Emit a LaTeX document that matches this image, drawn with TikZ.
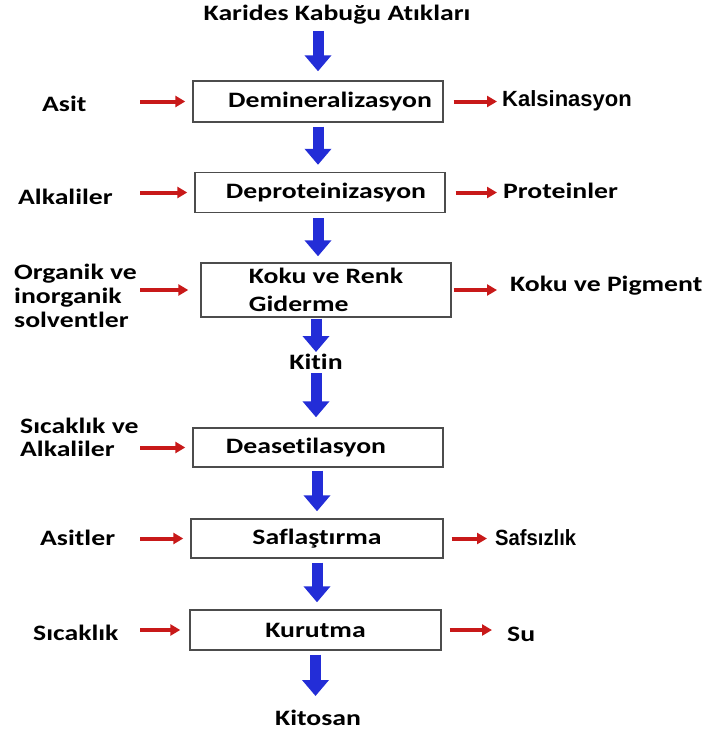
\documentclass[tikz,border=0pt]{standalone}
\usepackage{fontspec}
\usepackage{xcolor}
\usetikzlibrary{arrows.meta}
\newfontfamily\flowfont{Carlito}[FakeStretch=1.26, Ligatures=NoCommon]
\newfontfamily\arialfont{Liberation Sans}
\newfontfamily\arialnarrow{Liberation Sans}[FakeStretch=0.92]
\definecolor{arrblue}{RGB}{35,45,215}
\definecolor{arrred}{RGB}{200,25,25}

\tikzset{
  box/.style={draw=black!70, line width=1.4pt, minimum width=250pt, minimum height=40pt,
    inner sep=0pt, align=center, font=\flowfont\bfseries\fontsize{22}{25}\selectfont},
  lbl/.style={inner sep=0pt, align=left, font=\flowfont\bfseries\fontsize{22}{24}\selectfont},
  bluearr/.style={draw=arrblue, line width=11pt, -{Triangle[width=26pt,length=16pt]},
    shorten <=4pt, shorten >=7pt},
  redarr/.style={draw=arrred, line width=4pt, -{Triangle[width=11pt,length=10pt]}},
}

\begin{document}
\begin{tikzpicture}[x=1pt, y=-1pt]
\useasboundingbox (0,0) rectangle (709,734);
% main column
\node[lbl] (title) at (337,15) {Karides Kabuğu Atıkları};
\node[box, minimum height=41pt] (demin) at (318,101.5) {\hspace*{24pt}Demineralizasyon};
\node[box] (deprot) at (320,192.5) {\hspace*{12pt}Deproteinizasyon};
\node[box, minimum height=54pt, align=left] (koku) at (326,290) {Koku ve Renk\\[3pt]Giderme};
\node[lbl] (kitin) at (316,362) {Kitin};
\node[box, minimum height=39pt] (deaset) at (318,447.5) {Deasetilasyon\hspace*{24pt}};
\node[box, minimum height=39pt, minimum width=252pt] (safl) at (317,538.5) {Saflaştırma};
\node[box, minimum width=251pt] (kurut) at (315.5,630) {Kurutma};
\node[lbl] (kitosan) at (318,718) {Kitosan};

% inputs
\node[lbl, anchor=west] (asit) at (42,104) {Asit};
\node[lbl, anchor=west] (alkali) at (18,197) {Alkaliler};
\node[lbl, anchor=west] (organik) at (14,296) {Organik ve\\inorganik\\solventler};
\node[lbl, anchor=west, font=\flowfont\bfseries\fontsize{22}{23}\selectfont] (sicakalk) at (20,437.5) {Sıcaklık ve\\Alkaliler};
\node[lbl, anchor=west] (asitler) at (40,538) {Asitler};
\node[lbl, anchor=west] (sicak) at (33,633) {Sıcaklık};

% outputs
\node[lbl, anchor=west, font=\arialfont\bfseries\fontsize{22}{24}\selectfont] (kalsin) at (502,101) {Kalsinasyon};
\node[lbl, anchor=west] (protein) at (503,191) {Proteinler};
\node[lbl, anchor=west] (pigment) at (510,286) {Koku ve Pigment};
\node[lbl, anchor=west, font=\arialnarrow\bfseries\fontsize{22}{24}\selectfont] (safsiz) at (495,538) {Safsızlık};
\node[lbl, anchor=west] (su) at (507,634) {Su};

% blue flow
\draw[bluearr, shorten <=6pt, shorten >=9pt] (title.south -| demin.north) -- (demin.north);
\draw[bluearr] (demin.south) -- (deprot.north -| demin.south);
\draw[bluearr, shorten <=5pt, shorten >=6pt] (deprot.south -| demin.north) -- (koku.north -| demin.north);
\draw[bluearr, shorten <=1pt, shorten >=2pt] (koku.south -| kitin) -- (kitin);
\draw[bluearr, shorten <=3pt, shorten >=10pt] (kitin) -- (deaset.north -| kitin);
\draw[bluearr, shorten <=3pt] (deaset.south -| safl.south) -- (safl.north);
\draw[bluearr] (safl.south) -- (kurut.north -| safl.south);
\draw[bluearr, shorten >=14pt] (kurut.south) -- (kitosan.north -| kurut.south);

% red side arrows
\coordinate (lin) at (140,0);
\coordinate (rout) at (497,0);
\draw[redarr, shorten >=7pt] (demin.west -| lin) -- (demin.west);
\draw[redarr, shorten >=7pt] (deprot.west -| lin) -- (deprot.west);
\draw[redarr, shorten >=12pt] (koku.west -| lin) -- (koku.west);
\draw[redarr, shorten >=7pt] (deaset.west -| lin) -- (deaset.west);
\draw[redarr, shorten >=7pt] (safl.west -| lin) -- (safl.west);
\draw[redarr, shorten >=9pt] (kurut.west -| lin) -- (kurut.west);
\draw[redarr, shorten <=10pt] (demin.east) -- (demin.east -| rout);
\draw[redarr, shorten <=10pt] (deprot.east) -- (deprot.east -| rout);
\draw[redarr, shorten <=2pt] (koku.east) -- (koku.east -| rout);
\draw[redarr, shorten <=8pt, shorten >=10pt] (safl.east) -- (safl.east -| rout);
\draw[redarr, shorten <=8pt, shorten >=5pt] (kurut.east) -- (kurut.east -| rout);
\end{tikzpicture}
\end{document}
